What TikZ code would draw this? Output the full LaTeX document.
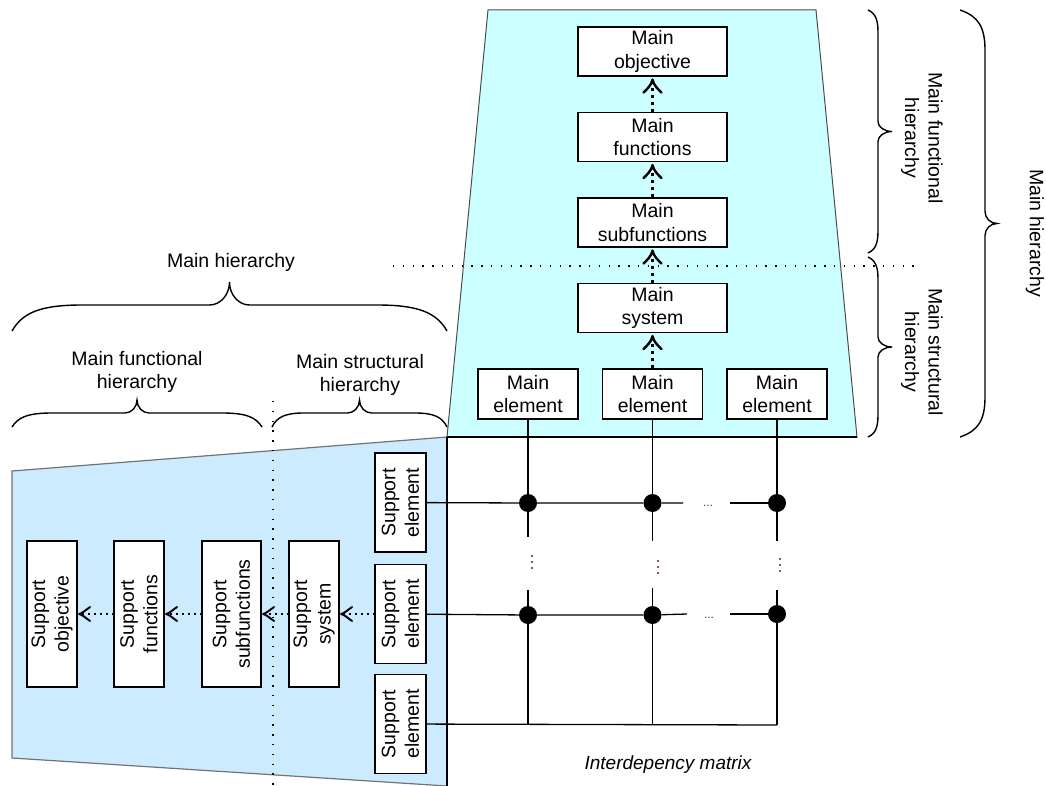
\documentclass[tikz,border=0pt]{standalone}
\usepackage{fontspec}
\setmainfont{Liberation Sans}
\usetikzlibrary{calc}
\definecolor{topfill}{RGB}{204,255,255}
\definecolor{leftfill}{RGB}{204,235,255}
\definecolor{vdotcol}{RGB}{120,20,60}
\definecolor{hdotcol}{RGB}{40,60,140}
\tikzset{
  txt/.style={font=\fontsize{19.5}{23.5}\selectfont, align=center},
  box/.style={txt, draw=black, line width=1.2pt, fill=white, inner sep=0pt},
  mbox/.style={box, minimum width=149pt, minimum height=49pt},
  ebox/.style={box, minimum width=100pt, minimum height=50pt},
  sbox/.style={box, rotate=90, minimum width=146pt, minimum height=50pt},
  subbox/.style={box, rotate=90, minimum width=146pt, minimum height=59pt},
  sebox/.style={box, rotate=90, minimum width=99pt, minimum height=51pt},
  dotnode/.style={circle, fill=black, inner sep=0pt, minimum size=18pt},
  smalldot/.style={circle, fill=vdotcol, inner sep=0pt, minimum size=2.2pt},
  mline/.style={line width=1.3pt},
  brc/.style={line width=1.4pt},
  guide/.style={line width=1.3pt, dash pattern=on 1.3pt off 8.5pt},
  mainline/.style={line width=2.5pt, dash pattern=on 3pt off 4pt, shorten >=4pt},
  suppline/.style={line width=1.7pt, dash pattern=on 1.7pt off 4.2pt, shorten >=2pt},
  uphead/.pic={\draw[line width=2.4pt, line cap=round, line join=round]
     (-9,13) .. controls (-5.5,9.5) and (-1,5.5) .. (0,0) .. controls (1,5.5) and (5.5,9.5) .. (9,13);},
  lefthead/.pic={\draw[line width=1.9pt, line cap=round, line join=round]
     (11,-7) .. controls (7,-4.5) and (3.8,-0.9) .. (0,0) .. controls (3.8,0.9) and (7,4.5) .. (11,7);},
}
\newcommand{\mybrH}[7]{%
\draw[brc] (#1,#3) .. controls ({#1+0.15*#6},{#3-0.7*#5}) and ({#1+0.4*#6},{#3-#5}) .. ({#1+#6},{#3-#5})
 -- ({(#1+#2)/2-#7},{#3-#5}) .. controls ({(#1+#2)/2-0.45*#7},{#3-#5}) and ({(#1+#2)/2},{#3-#5-0.45*(#4-#5)}) .. ({(#1+#2)/2},{#3-#4})
 .. controls ({(#1+#2)/2},{#3-#5-0.45*(#4-#5)}) and ({(#1+#2)/2+0.45*#7},{#3-#5}) .. ({(#1+#2)/2+#7},{#3-#5})
 -- ({#2-#6},{#3-#5}) .. controls ({#2-0.4*#6},{#3-#5}) and ({#2-0.15*#6},{#3-0.7*#5}) .. (#2,#3);}
\newcommand{\mybrV}[7]{%
\draw[brc] (#3,#1) .. controls ({#3+0.7*#5},{#1+0.15*#6}) and ({#3+#5},{#1+0.4*#6}) .. ({#3+#5},{#1+#6})
 -- ({#3+#5},{(#1+#2)/2-#7}) .. controls ({#3+#5},{(#1+#2)/2-0.45*#7}) and ({#3+#5+0.45*(#4-#5)},{(#1+#2)/2}) .. ({#3+#4},{(#1+#2)/2})
 .. controls ({#3+#5+0.45*(#4-#5)},{(#1+#2)/2}) and ({#3+#5},{(#1+#2)/2+0.45*#7}) .. ({#3+#5},{(#1+#2)/2+#7})
 -- ({#3+#5},{#2-#6}) .. controls ({#3+#5},{#2-0.4*#6}) and ({#3+0.7*#5},{#2-0.15*#6}) .. (#3,#2);}
\begin{document}
\begin{tikzpicture}[x=1pt,y=-1pt]
\useasboundingbox (0,0) rectangle (1046,786);
% background regions
\draw[fill=topfill, draw=black!70, line width=1pt] (488,10) -- (816,10) -- (857,437) -- (447,437) -- cycle;
\draw[fill=leftfill, draw=black!55, line width=1.2pt] (12,471) -- (447,437) -- (447,786) -- (12,758) -- cycle;
\draw[line width=1.3pt] (447,437) -- (857,437);
\draw[line width=1.3pt] (447,437) -- (447,786);
% dotted guide lines
\draw[guide] (393,266) -- (915,266);
\draw[guide] (273,401) -- (273,786);
% braces
\mybrH{12}{447}{331}{49}{26}{70}{20}
\mybrH{12}{262}{427}{27}{14}{40}{12}
\mybrH{272}{447}{427}{27}{14}{32}{12}
\mybrV{10}{253}{868}{24}{10}{22}{10}
\mybrV{257}{437}{868}{24}{10}{22}{10}
\mybrV{10}{437}{960}{37}{25}{40}{12}
% brace labels
\node[txt] (lmh) at (231,262) {Main hierarchy};
\node[txt] (lmf) at (137,372) {Main functional\\hierarchy};
\node[txt] (lms) at (360,375) {Main structural\\hierarchy};
\node[txt, rotate=-90] (rmf) at (922,138) {Main functional\\hierarchy};
\node[txt, rotate=-90] (rms) at (922,352) {Main structural\\hierarchy};
\node[txt, rotate=-90] (rmh) at (1035,233) {Main hierarchy};
% main boxes
\node[mbox] (mobj) at (652.5,51.5) {Main\\objective};
\node[mbox] (mfun) at (652.5,137) {Main\\functions};
\node[mbox] (msub) at (652.5,222.5) {Main\\subfunctions};
\node[mbox] (msys) at (652.5,308) {Main\\system};
\node[ebox] (me1) at (528,394) {Main\\element};
\node[ebox] (me2) at (652.5,394) {Main\\element};
\node[ebox] (me3) at (777,394) {Main\\element};
% support boxes
\node[sbox] (sobj) at (52,614) {Support\\objective};
\node[sbox] (sfun) at (139,614) {Support\\functions};
\node[subbox] (ssub) at (231.5,614) {Support\\subfunctions};
\node[sbox] (ssys) at (314,614) {Support\\system};
\node[sebox] (se1) at (400.5,502.5) {Support\\element};
\node[sebox] (se2) at (400.5,614) {Support\\element};
\node[sebox] (se3) at (400.5,724) {Support\\element};
% hierarchy arrows: dotted connectors with open arrowheads
\draw[mainline] (me2) -- (msys);
\draw[mainline] (msys) -- (msub);
\draw[mainline] (msub) -- (mfun);
\draw[mainline] (mfun) -- (mobj);
\pic at ($(msys.south)+(0,3)$) {uphead};
\pic at ($(msub.south)+(0,3)$) {uphead};
\pic at ($(mfun.south)+(0,3)$) {uphead};
\pic at ($(mobj.south)+(0,3)$) {uphead};
\draw[suppline] (se2) -- (ssys);
\draw[suppline] (ssys) -- (ssub);
\draw[suppline] (ssub) -- (sfun);
\draw[suppline] (sfun) -- (sobj);
\pic at ($(ssys.south)+(1.5,0)$) {lefthead};
\pic at ($(ssub.south)+(1.5,0)$) {lefthead};
\pic at ($(sfun.south)+(1.5,0)$) {lefthead};
\pic at ($(sobj.south)+(1.5,0)$) {lefthead};
% matrix
\node[dotnode] (d11) at (528,503) {};
\node[dotnode] (d12) at (652.5,503) {};
\node[dotnode] (d13) at (777,503) {};
\node[dotnode] (d21) at (528,615) {};
\node[dotnode] (d22) at (652.5,615) {};
\node[dotnode] (d23) at (777,614) {};
\coordinate (g11) at (528,537);
\coordinate (g21) at (528,590);
\coordinate (g12) at (652.5,541);
\coordinate (g22) at (652.5,588);
\coordinate (g13) at (777,541);
\coordinate (g23) at (777,590);
\coordinate (h1a) at (683,503);
\coordinate (h1b) at (730,503);
\coordinate (h2a) at (687,614);
\coordinate (h2b) at (730,614);
\coordinate (b1) at (528,725);
\coordinate (b2) at (652.5,725);
\coordinate (c3) at (777,725);
\draw[mline] (me1) -- (d11) -- (g11);
\draw[mline] (g21) -- (d21) -- (b1);
\draw[mline] (me2) -- (d12) -- (g12);
\draw[mline] (g22) -- (d22) -- (b2);
\draw[mline] (me3) -- (d13) -- (g13);
\draw[mline] (g23) -- (d23) -- (c3);
\draw[mline] (se1) -- (d11) -- (d12) -- (h1a);
\draw[mline] (h1b) -- (d13);
\draw[mline] (se2) -- (d21) -- (d22) -- (h2a);
\draw[mline] (h2b) -- (d23);
\draw[mline] (se3) -- (c3);
% ellipses
\node[font=\fontsize{12}{12}\selectfont, text=hdotcol] (e1) at (708,506) {...};
\node[font=\fontsize{12}{12}\selectfont, text=hdotcol] (e2) at (709,618) {...};
\foreach \x/\y [count=\i] in {532/556, 532/562, 532/568, 658/561, 658/567, 658/573, 780/559, 780/565, 780/571}
  \node[smalldot] (vd\i) at (\x,\y) {};
% caption
\node[font=\fontsize{19}{22}\selectfont\itshape] (cap) at (668,765) {Interdepency matrix};
\end{tikzpicture}
\end{document}
